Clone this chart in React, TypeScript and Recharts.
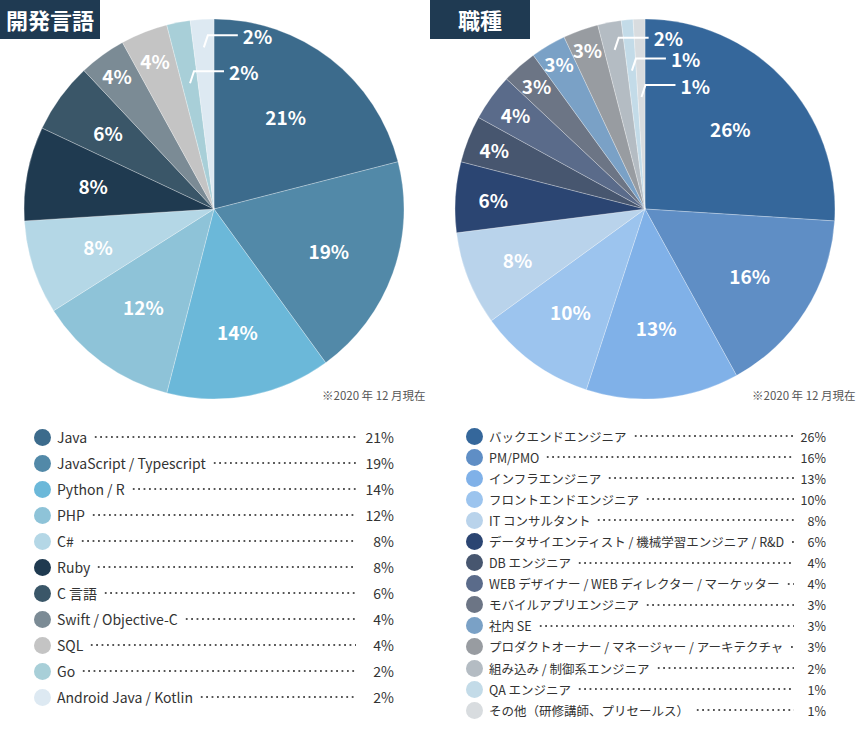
import React from 'react';
import { PieChart, Pie, Cell } from 'recharts';

const FONT = '"Noto Sans CJK JP", "Noto Sans", sans-serif';

// 開発言語
const langNames = [
  'Java', 'JavaScript / Typescript', 'Python / R', 'PHP', 'C#', 'Ruby', 'C 言語',
  'Swift / Objective-C', 'SQL', 'Go', 'Android Java / Kotlin',
];
const langValues = [21, 19, 14, 12, 8, 8, 6, 4, 4, 2, 2];
const langColors = [
  '#3c6b8c', '#5289a8', '#6bb8d9', '#8ec3d8', '#b4d7e6', '#1f3a50', '#3a5668',
  '#7b8b95', '#c4c4c4', '#a8cfd8', '#dde9f2',
];

// 職種
const jobNames = [
  'バックエンドエンジニア', 'PM/PMO', 'インフラエンジニア', 'フロントエンドエンジニア', 'IT コンサルタント',
  'データサイエンティスト / 機械学習エンジニア / R&D', 'DB エンジニア', 'WEB デザイナー / WEB ディレクター / マーケッター',
  'モバイルアプリエンジニア', '社内 SE', 'プロダクトオーナー / マネージャー / アーキテクチャ',
  '組み込み / 制御系エンジニア', 'QA エンジニア', 'その他（研修講師、プリセールス）',
];
const jobValues = [26, 16, 13, 10, 8, 6, 4, 4, 3, 3, 3, 2, 1, 1];
const jobColors = [
  '#35679b', '#5f8ec5', '#80b1e8', '#9cc4ee', '#b9d3eb', '#2b4572', '#47566f',
  '#5a6b8a', '#6c7585', '#7aa1c6', '#989ca1', '#b4bcc3', '#c3dbe8', '#d8dcdf',
];

const note = '※2020 年 12 月現在';

// label layout (distance from centre), small slices get a leader line
const langLabelR = [117, 122, 125, 120, 122, 123, 131, 165, 160];
const langCallouts: Record<number, number> = { 9: 128, 10: 162 };
const jobLabelR = [117, 124, 119, 127, 137, 152, 162, 160, 164, 169, 170];
const jobCallouts: Record<number, number> = { 11: 162, 12: 139, 13: 112 };

const RAD = Math.PI / 180;

function makeLabel(radii: number[], callouts: Record<number, number>) {
  return (p: any) => {
    const { cx, cy, midAngle, index, value } = p;
    const cos = Math.cos(-midAngle * RAD);
    const sin = Math.sin(-midAngle * RAD);
    const txt = `${value}%`;
    if (callouts[index] != null) {
      const r = callouts[index];
      const sx = cx + r * cos;
      const sy = cy + r * sin;
      const ex = sx + 4;
      const ey = sy - 12;
      const hx = ex + 30;
      return (
        <g key={`l${index}`}>
          <polyline points={`${sx},${sy} ${ex},${ey} ${hx},${ey}`} fill="none" stroke="#fff" strokeWidth={2} />
          <text x={hx + 5} y={ey} fill="#fff" fontSize={19} fontWeight={700} fontFamily={FONT}
            textAnchor="start" dominantBaseline="central">{txt}</text>
        </g>
      );
    }
    const r = radii[index];
    return (
      <text key={`l${index}`} x={cx + r * cos} y={cy + r * sin} fill="#fff" fontSize={19} fontWeight={700}
        fontFamily={FONT} textAnchor="middle" dominantBaseline="central">{txt}</text>
    );
  };
}

function Donut({ names, values, colors, radii, callouts }: any) {
  const data = names.map((n: string, i: number) => ({ name: n, value: values[i] }));
  return (
    <PieChart width={430} height={410} margin={{ top: 0, right: 0, bottom: 0, left: 0 }}>
      <Pie data={data} dataKey="value" nameKey="name" cx={214} cy={209} outerRadius={190}
        startAngle={90} endAngle={-270} isAnimationActive={false} labelLine={false}
        label={makeLabel(radii, callouts)} stroke="rgba(255,255,255,0.45)" strokeWidth={0.6}>
        {data.map((_: any, i: number) => <Cell key={i} fill={colors[i]} />)}
      </Pie>
    </PieChart>
  );
}

function ListLegend({ names, values, colors, left, top, rowH, width, fontSize, pctW }: any) {
  return (
    <div style={{ position: 'absolute', left, top, width, fontFamily: FONT, color: '#333', fontSize }}>
      {names.map((n: string, i: number) => (
        <div key={n} style={{ display: 'flex', alignItems: 'center', height: rowH }}>
          <span style={{ width: 17, height: 17, borderRadius: '50%', background: colors[i], flex: 'none', marginRight: 6 }} />
          <span style={{ whiteSpace: 'nowrap' }}>{n}</span>
          <span style={{
            flex: 1, height: 4, margin: '0 4px 0 6px',
            backgroundImage: 'radial-gradient(circle, #555 0.9px, transparent 1.2px)',
            backgroundSize: '5.4px 4px', backgroundRepeat: 'repeat-x',
          }} />
          <span style={{ width: pctW, textAlign: 'right', flex: 'none' }}>{values[i]}%</span>
        </div>
      ))}
    </div>
  );
}

const titleStyle: React.CSSProperties = {
  position: 'absolute', top: 0, height: 39, width: 100, background: '#1f3a52', color: '#fff',
  fontFamily: FONT, fontWeight: 700, fontSize: 22, lineHeight: '39px', textAlign: 'center',
};

const noteStyle: React.CSSProperties = {
  position: 'absolute', top: 387, fontFamily: FONT, fontSize: 11.5, color: '#555', whiteSpace: 'nowrap',
};

export default function App() {
  return (
    <div style={{ position: 'absolute', left: 0, top: 0, width: 861, height: 730, background: '#fff', overflow: 'hidden' }}>
      <div style={{ position: 'absolute', left: 0, top: 0 }}>
        <Donut names={langNames} values={langValues} colors={langColors} radii={langLabelR} callouts={langCallouts} />
      </div>
      <div style={{ position: 'absolute', left: 431, top: 0 }}>
        <Donut names={jobNames} values={jobValues} colors={jobColors} radii={jobLabelR} callouts={jobCallouts} />
      </div>
      <div style={{ ...titleStyle, left: 0 }}>開発言語</div>
      <div style={{ ...titleStyle, left: 430 }}>職種</div>
      <div style={{ ...noteStyle, left: 322 }}>{note}</div>
      <div style={{ ...noteStyle, left: 752 }}>{note}</div>
      <ListLegend names={langNames} values={langValues} colors={langColors}
        left={34} top={424} rowH={26} width={360} fontSize={14} pctW={34} />
      <ListLegend names={jobNames} values={jobValues} colors={jobColors}
        left={466} top={425.5} rowH={21.1} width={360} fontSize={12.5} pctW={28} />
    </div>
  );
}
